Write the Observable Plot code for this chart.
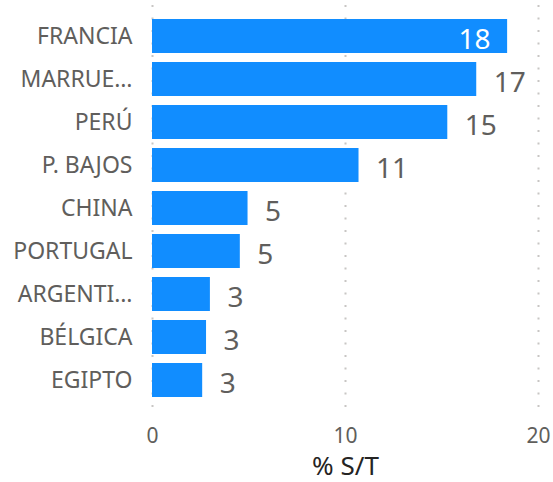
<!DOCTYPE html>
<html>
<head>
<meta charset="utf-8">
<script src="https://cdn.jsdelivr.net/npm/d3@7"></script>
<script src="https://cdn.jsdelivr.net/npm/@observablehq/plot@0.6"></script>
<style>
  html, body { margin: 0; padding: 0; background: #fff; }
  #chart { width: 553px; height: 482px; }
</style>
</head>
<body>
<div id="chart"></div>
<script>
const categories = ["FRANCIA", "MARRUE…", "PERÚ", "P. BAJOS", "CHINA", "PORTUGAL", "ARGENTI…", "BÉLGICA", "EGIPTO"];
const values = [18.4, 16.8, 15.3, 10.7, 4.95, 4.55, 3.0, 2.8, 2.6];
const xTicks = [0, 10, 20];
const xLabel = "% S/T";

const data = categories.map((c, i) => ({cat: c, v: values[i]}));
const insideThreshold = 18;
const fmt = d3.format(".0f");

const chart = Plot.plot({
  width: 553,
  height: 482,
  marginLeft: 152,
  marginRight: 15,
  marginTop: 14.5,
  marginBottom: 80.5,
  style: {fontFamily: "Noto Sans", background: "#fff"},
  x: {domain: [0, 20]},
  y: {domain: categories, paddingInner: 0.21, paddingOuter: 0.105},
  marks: [
    Plot.ruleX(xTicks, {stroke: "#c8c6c4", strokeWidth: 2, strokeDasharray: "2,10.5", insetTop: -9.5, insetBottom: -11.5}),
    Plot.barX(data, {x: "v", y: "cat", fill: "#118DFF"}),
    Plot.axisY({tickSize: 0, tickPadding: 20, fontSize: 23, color: "#605E5C", label: null}),
    Plot.axisX({ticks: xTicks, tickSize: 0, tickPadding: 26, fontSize: 21, color: "#605E5C", label: null, tickFormat: d3.format("d")}),
    Plot.text([xLabel], {frameAnchor: "bottom", lineAnchor: "middle", dy: 65, fontSize: 26, fill: "#252423", text: d => d}),
    Plot.text(data.filter(d => d.v < insideThreshold), {x: "v", y: "cat", text: d => fmt(d.v), textAnchor: "start", dx: 17, dy: 4, fontSize: 28, fill: "#605E5C"}),
    Plot.text(data.filter(d => d.v >= insideThreshold), {x: "v", y: "cat", text: d => fmt(d.v), textAnchor: "end", dx: -17, dy: 4, fontSize: 28, fill: "#ffffff"})
  ]
});
document.getElementById("chart").appendChild(chart);
</script>
</body>
</html>
